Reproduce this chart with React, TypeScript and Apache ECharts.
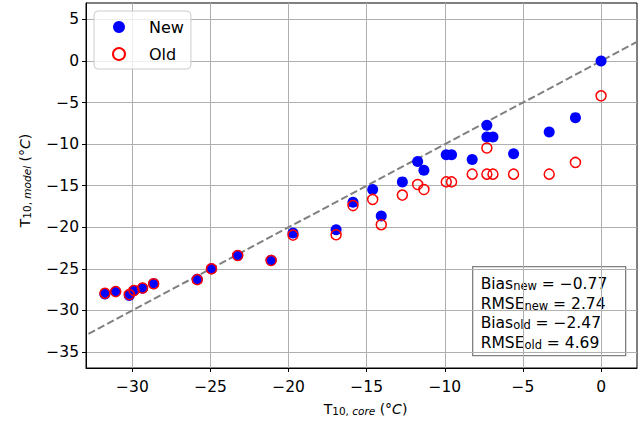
import React, { useEffect, useRef } from "react";
import * as echarts from "echarts";

// T10 core (x) and modelled T10 (y) values, in °C
const coreT = [
  -31.76, -31.07, -30.2, -29.9, -29.35, -28.64, -25.85, -24.94, -23.26, -21.12,
  -19.72, -16.96, -15.88, -14.62, -14.07, -12.72, -11.74, -11.34, -9.91, -9.57,
  -8.25, -7.31, -7.31, -6.92, -5.6, -3.32, -1.64, 0.0,
];
const newModel = [
  -28.02, -27.74, -28.22, -27.6, -27.34, -26.78, -26.25, -25.0, -23.39, -23.96,
  -20.7, -20.29, -16.99, -15.46, -18.65, -14.54, -12.08, -13.13, -11.28, -11.28,
  -11.84, -7.73, -9.14, -9.14, -11.16, -8.54, -6.81, 0.0,
];
const oldModel = [
  -27.95, -27.74, -28.1, -27.6, -27.3, -26.8, -26.3, -25.0, -23.4, -24.0,
  -20.94, -20.9, -17.39, -16.65, -19.69, -16.13, -14.86, -15.46, -14.54, -14.54,
  -13.61, -10.47, -13.61, -13.61, -13.61, -13.61, -12.2, -4.19,
];
const oneToOne = [
  [-40, -40],
  [10, 10],
];
const xTicks = [-30, -25, -20, -15, -10, -5, 0];
const yTicks = [-35, -30, -25, -20, -15, -10, -5, 0, 5];
const statLines = [
  { name: "Bias", sub: "new", value: "−0.77" },
  { name: "RMSE", sub: "new", value: "2.74" },
  { name: "Bias", sub: "old", value: "−2.47" },
  { name: "RMSE", sub: "old", value: "4.69" },
];

const FONT = "DejaVu Sans";
const fmt = (v: number) => (v < 0 ? "−" + Math.abs(v) : String(v));

const labelRich = {
  n: { fontFamily: FONT, fontSize: 14, color: "#000", lineHeight: 18, verticalAlign: "bottom" },
  s: { fontFamily: FONT, fontSize: 10.5, color: "#000", lineHeight: 9, verticalAlign: "bottom" },
  si: { fontFamily: FONT, fontSize: 10.5, fontStyle: "italic", color: "#000", lineHeight: 9, verticalAlign: "bottom" },
  i: { fontFamily: FONT, fontSize: 14, fontStyle: "italic", color: "#000", lineHeight: 18, verticalAlign: "bottom" },
};

export default function App() {
  const ref = useRef<HTMLDivElement>(null);
  useEffect(() => {
    if (!ref.current) return;
    document.body.style.margin = "0";
    const chart = echarts.init(ref.current, null, { renderer: "svg" });
    const statText = statLines
      .map((l) => `{n|${l.name}}{s|${l.sub}}{n| = ${l.value}}`)
      .join("\n");
    chart.setOption({
      animation: false,
      backgroundColor: "#fff",
      grid: {
        left: 86,
        right: 2,
        top: 3,
        bottom: 55,
        show: true,
        borderColor: "#000",
        borderWidth: 1,
        backgroundColor: "transparent",
      },
      legend: {
        data: ["New", "Old"],
        orient: "vertical",
        left: 94,
        top: 11,
        padding: [8, 7, 7, 18],
        itemWidth: 12,
        itemHeight: 12,
        itemGap: 11,
        backgroundColor: "rgba(255,255,255,0.8)",
        borderColor: "#cccccc",
        borderWidth: 1,
        borderRadius: 4,
        formatter: (name: string) => `{a|${name}}`,
        textStyle: {
          fontFamily: FONT,
          fontSize: 16,
          color: "#000",
          rich: { a: { fontFamily: FONT, fontSize: 16, color: "#000", padding: [0, 0, 0, 19] } },
        },
      },
      xAxis: {
        type: "value",
        min: -32.97,
        max: 2.3,
        name: "{n|T}{s|10, }{si|core}{n| (}{i|°C}{n|)}",
        nameLocation: "middle",
        nameGap: 30,
        nameTextStyle: { rich: labelRich, padding: [0, 0, 0, 8] },
        axisLine: { show: true, onZero: false, lineStyle: { color: "#000", width: 1 } },
        axisTick: { show: true, length: 4, customValues: xTicks, lineStyle: { color: "#000" } },
        axisLabel: {
          customValues: xTicks,
          formatter: fmt,
          fontFamily: FONT,
          fontSize: 15.5,
          color: "#000",
          margin: 11,
        },
        splitLine: { show: true, lineStyle: { color: "#b0b0b0", width: 1 } },
      },
      yAxis: {
        type: "value",
        min: -36.93,
        max: 6.98,
        name: "{n|T}{s|10, }{si|model}{n| (}{i|°C}{n|)}",
        nameLocation: "middle",
        nameRotate: 90,
        nameGap: 54,
        nameTextStyle: { rich: labelRich, padding: [0, 0, 0, 10] },
        axisLine: { show: true, onZero: false, lineStyle: { color: "#000", width: 1 } },
        axisTick: { show: true, length: 4, customValues: yTicks, lineStyle: { color: "#000" } },
        axisLabel: {
          customValues: yTicks,
          formatter: fmt,
          fontFamily: FONT,
          fontSize: 15.5,
          color: "#000",
          margin: 7,
        },
        splitLine: { show: true, lineStyle: { color: "#b0b0b0", width: 1 } },
      },
      series: [
        {
          name: "1:1",
          type: "line",
          data: oneToOne,
          showSymbol: false,
          silent: true,
          clip: true,
          lineStyle: { color: "#808080", width: 2, type: [7.4, 3.2] },
          z: 1,
        },
        {
          name: "New",
          type: "scatter",
          data: coreT.map((x, i) => [x, newModel[i]]),
          symbol: "circle",
          symbolSize: 11,
          itemStyle: { color: "#0000ff", opacity: 1 },
          z: 2,
        },
        {
          name: "Old",
          type: "scatter",
          data: coreT.map((x, i) => [x, oldModel[i]]),
          symbol: "circle",
          symbolSize: 10,
          itemStyle: { color: "rgba(0,0,0,0)", borderColor: "#ff0000", borderWidth: 1.5, opacity: 1 },
          z: 3,
        },
      ],
      graphic: [
        {
          type: "group",
          left: 472,
          top: 266,
          z: 100,
          children: [
            {
              type: "rect",
              shape: { x: 0, y: 0, width: 153, height: 89 },
              style: { fill: "#ffffff", stroke: "#808080", lineWidth: 1.3 },
            },
            {
              type: "text",
              x: 8,
              y: 6,
              style: {
                text: statText,
                rich: {
                  n: { fontFamily: FONT, fontSize: 15.5, color: "#000", lineHeight: 19.5, verticalAlign: "bottom" },
                  s: { fontFamily: FONT, fontSize: 11.5, color: "#000", lineHeight: 10, verticalAlign: "bottom" },
                },
              },
            },
          ],
        },
      ],
    });
    return () => chart.dispose();
  }, []);
  return <div ref={ref} style={{ width: 639, height: 423 }} />;
}
